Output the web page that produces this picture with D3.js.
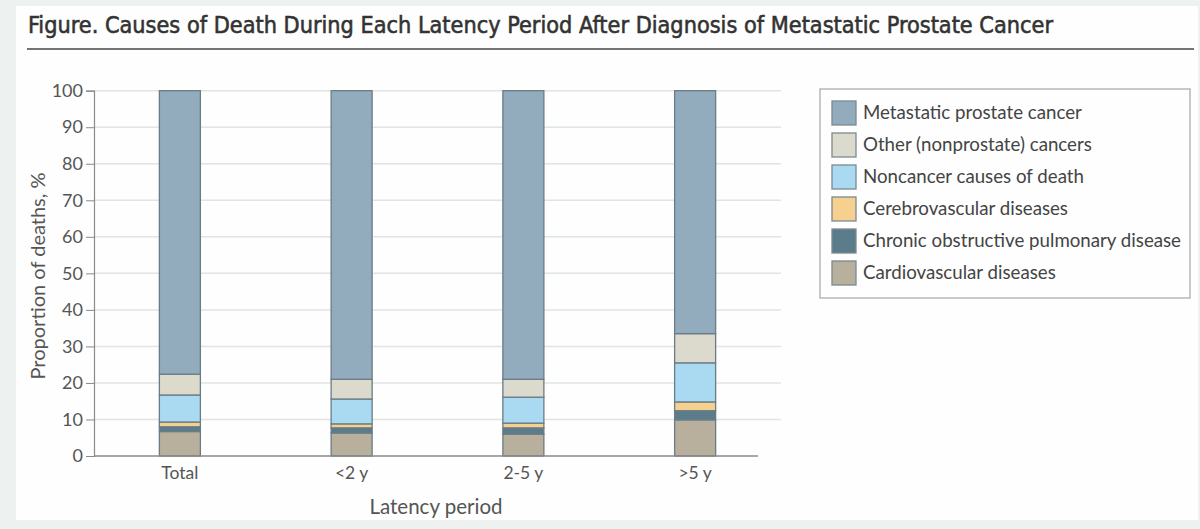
<!DOCTYPE html>
<html>
<head>
<meta charset="utf-8">
<script src="https://cdn.jsdelivr.net/npm/d3@7"></script>
<style>
  body { margin: 0; background: #edf1ef; }
  svg { display: block; }
  .tick text { font-family: Lato, "Open Sans", sans-serif; }
</style>
</head>
<body>
<div id="chart"></div>
<script>
// latency periods along the x axis
const periods = ["Total", "<2 y", "2-5 y", ">5 y"];

// causes, bottom to top of each stack
const causes = [
    "Cardiovascular diseases",
    "Chronic obstructive pulmonary disease",
    "Cerebrovascular diseases",
    "Noncancer causes of death",
    "Other (nonprostate) cancers",
    "Metastatic prostate cancer"
];

// proportion of deaths (%) per period, same order as periods
const cardiovascular = [6.7, 6.3, 6.0, 9.9];
const copd = [1.3, 1.4, 1.7, 2.5];
const cerebrovascular = [1.3, 1.1, 1.3, 2.4];
const noncancer = [7.4, 6.8, 7.1, 10.7];
const otherCancers = [5.7, 5.4, 4.9, 8.0];
const metastatic = [77.6, 79.0, 79.0, 66.5];

const yTicks = [0, 10, 20, 30, 40, 50, 60, 70, 80, 90, 100];

const colors = ["#b8af9c", "#5b7c8a", "#f5d08e", "#a9daf2", "#dcd9cd", "#92acbd"];

// build rows for d3.stack
const series = [cardiovascular, copd, cerebrovascular, noncancer, otherCancers, metastatic];
const rows = periods.map((p, i) => {
    let r = {period: p};
    causes.forEach((c, j) => r[c] = series[j][i]);
    return r;
});

const width = 1200, height = 529;
const svg = d3.select("#chart").append("svg")
    .attr("width", width)
    .attr("height", height);

// white panel
svg.append("rect")
    .attr("x", 16).attr("y", 6)
    .attr("width", 1182).attr("height", 514)
    .attr("fill", "#fdfefd");

// title (regular narrow face, thickened a little with a stroke)
svg.append("text")
    .attr("x", 28).attr("y", 33)
    .style("font-family", "'Liberation Sans Narrow', 'DejaVu Sans Condensed', sans-serif")
    .style("font-size", "23px")
    .attr("fill", "#333")
    .attr("stroke", "#333")
    .attr("stroke-width", 0.55)
    .attr("textLength", 1025)
    .attr("lengthAdjust", "spacingAndGlyphs")
    .text("Figure. Causes of Death During Each Latency Period After Diagnosis of Metastatic Prostate Cancer");

svg.append("line")
    .attr("x1", 27).attr("x2", 1194)
    .attr("y1", 49).attr("y2", 49)
    .attr("stroke", "#747474")
    .attr("stroke-width", 2);

// scales
const x = d3.scaleBand()
    .domain(periods)
    .range([94, 781])
    .padding(0);

const y = d3.scaleLinear()
    .domain([0, 100])
    .range([456, 90.7]);

const barWidth = 41;

// gridlines
svg.append("g")
    .selectAll("line")
    .data(yTicks.slice(1))
    .join("line")
    .attr("x1", 94).attr("x2", 781)
    .attr("y1", d => y(d)).attr("y2", d => y(d))
    .attr("stroke", "#e2e4e3")
    .attr("stroke-width", 1.5);

// y axis
const yAxis = svg.append("g")
    .attr("transform", "translate(94,0)")
    .call(d3.axisLeft(y).tickValues(yTicks).tickSize(8).tickPadding(3));
yAxis.select(".domain").attr("stroke", "#8a8a8a").attr("stroke-width", 1.2);
yAxis.selectAll(".tick line").attr("stroke", "#8a8a8a");
yAxis.selectAll(".tick text")
    .style("font-size", "18px")
    .attr("fill", "#555");

// bars
const stacked = d3.stack().keys(causes)(rows);

svg.append("g")
    .selectAll("g")
    .data(stacked)
    .join("g")
    .attr("fill", (d, i) => colors[i])
    .selectAll("rect")
    .data(d => d)
    .join("rect")
    .attr("x", d => x(d.data.period) + x.bandwidth() / 2 - barWidth / 2)
    .attr("y", d => y(d[1]))
    .attr("width", barWidth)
    .attr("height", d => y(d[0]) - y(d[1]))
    .attr("stroke", "#6a7c86")
    .attr("stroke-width", 1.3);

// x baseline
svg.append("line")
    .attr("x1", 94).attr("x2", 758)
    .attr("y1", y(0)).attr("y2", y(0))
    .attr("stroke", "#8a8a8a")
    .attr("stroke-width", 1.5);

// x labels
svg.append("g")
    .selectAll("text")
    .data(periods)
    .join("text")
    .attr("x", d => x(d) + x.bandwidth() / 2)
    .attr("y", 479)
    .attr("text-anchor", "middle")
    .style("font-family", "Lato, 'Open Sans', sans-serif")
    .style("font-size", "17.5px")
    .attr("fill", "#555")
    .text(d => d);

// axis titles
svg.append("text")
    .attr("x", 436).attr("y", 514)
    .attr("text-anchor", "middle")
    .style("font-family", "Lato, 'Open Sans', sans-serif")
    .style("font-size", "20.5px")
    .attr("fill", "#555")
    .text("Latency period");

svg.append("text")
    .attr("transform", "translate(45,276) rotate(-90)")
    .attr("text-anchor", "middle")
    .style("font-family", "Lato, 'Open Sans', sans-serif")
    .style("font-size", "20px")
    .attr("fill", "#555")
    .text("Proportion of deaths, %");

// legend
const legend = svg.append("g").attr("transform", "translate(820,89)");
legend.append("rect")
    .attr("width", 370).attr("height", 209)
    .attr("fill", "none")
    .attr("stroke", "#a5a5a5")
    .attr("stroke-width", 1.2);

const legendOrder = causes.slice().reverse();
const items = legend.selectAll("g.item")
    .data(legendOrder)
    .join("g")
    .attr("class", "item")
    .attr("transform", (d, i) => "translate(12," + (12 + i * 32) + ")");

items.append("rect")
    .attr("width", 24).attr("height", 24)
    .attr("fill", d => colors[causes.indexOf(d)])
    .attr("stroke", "#7a8a92")
    .attr("stroke-width", 1.3);

items.append("text")
    .attr("x", 31).attr("y", 18)
    .style("font-family", "Lato, 'Open Sans', sans-serif")
    .style("font-size", "18.7px")
    .attr("fill", "#444")
    .text(d => d);
</script>
</body>
</html>
